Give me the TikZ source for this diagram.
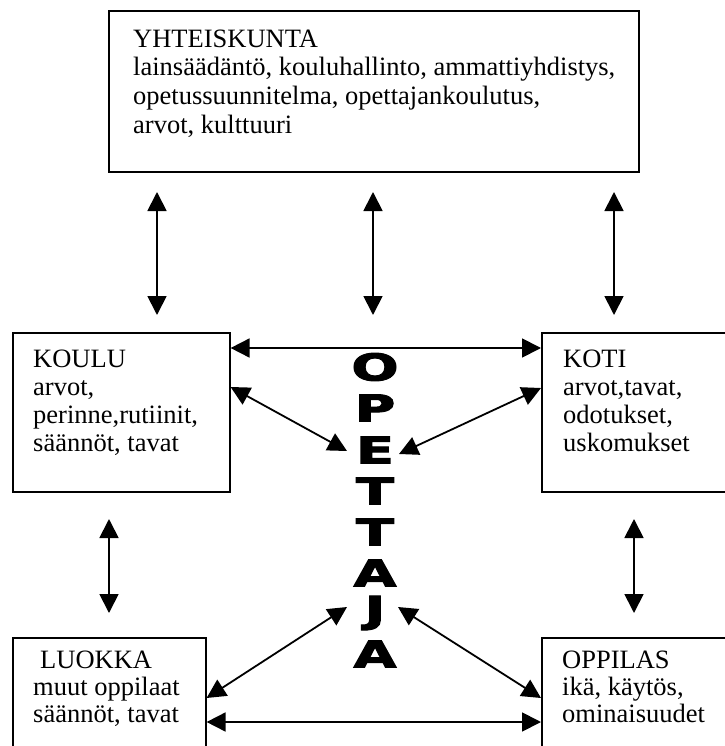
\documentclass[tikz,border=0pt]{standalone}
\usepackage{fontspec}
\usepackage{graphicx}
\setmainfont{Liberation Serif}
\newfontfamily\opfont[FakeBold=2.5]{DejaVu Sans}
\newcommand{\opletter}[1]{\scalebox{1.5}[1]{\opfont\bfseries\fontsize{37}{37}\selectfont #1}}
\usetikzlibrary{arrows.meta}
\begin{document}
\begin{tikzpicture}[x=1pt,y=-1pt,
  boxx/.style={draw,line width=1.6pt,inner sep=0pt,anchor=north west},
  txt/.style={inner sep=0pt,anchor=north west,align=left,font=\fontsize{26.5}{28}\selectfont},
  letter/.style={inner sep=0pt},
  arr/.style={line width=1.8pt,{Triangle[length=19pt,width=19pt]}-{Triangle[length=19pt,width=19pt]}}]
\useasboundingbox (0,0) rectangle (724,746);
% boxes
\node[boxx,minimum width=530pt,minimum height=161pt] (yht) at (108,10) {};
\node[boxx,minimum width=217pt,minimum height=159pt] (koulu) at (12,332) {};
\node[boxx,minimum width=200pt,minimum height=159pt] (koti) at (541,332) {};
\node[boxx,minimum width=193pt,minimum height=130pt] (luokka) at (12,637) {};
\node[boxx,minimum width=200pt,minimum height=130pt] (oppilas) at (541,637) {};
% texts
\node[txt,font=\fontsize{26.5}{28.7}\selectfont] (yhtt) at (133,29.5) {YHTEISKUNTA\\lainsäädäntö, kouluhallinto, ammattiyhdistys,\\opetussuunnitelma, opettajankoulutus,\\arvot, kulttuuri};
\node[txt] (koulut) at (33,349.5) {KOULU\\arvot,\\perinne,rutiinit,\\säännöt, tavat};
\node[txt] (kotit) at (563,349.5) {KOTI\\arvot,tavat,\\odotukset,\\uskomukset};
\node[txt,font=\fontsize{26.5}{27}\selectfont] (luokkat) at (33,650.5) {\hspace*{7pt}LUOKKA\\muut oppilaat\\säännöt, tavat};
\node[txt,font=\fontsize{26.5}{27}\selectfont] (oppilast) at (562,650.5) {OPPILAS\\ikä, käytös,\\ominaisuudet};
% OPETTAJA
\node[letter] (l1) at (375,367) {\opletter{O}};
\node[letter] (l2) at (375,408) {\opletter{P}};
\node[letter] (l3) at (375,450) {\opletter{E}};
\node[letter] (l4) at (375,491) {\opletter{T}};
\node[letter] (l5) at (375,532) {\opletter{T}};
\node[letter] (l6) at (375,573) {\opletter{A}};
\node[letter] (l7) at (375,613) {\opletter{J}};
\node[letter] (l8) at (375,654) {\opletter{A}};
% arrow end coordinates
\coordinate (t1a) at (157,192); \coordinate (t1b) at (157,315);
\coordinate (t2a) at (373,192); \coordinate (t2b) at (373,315);
\coordinate (t3a) at (614,192); \coordinate (t3b) at (614,315);
\coordinate (eL) at (347,451); \coordinate (eR) at (399,454);
\coordinate (jL) at (347,607); \coordinate (jR) at (398,607);
\coordinate (v1a) at (109,519); \coordinate (v1b) at (109,613);
\coordinate (v2a) at (634,519); \coordinate (v2b) at (634,613);
% connectors
\draw[arr] (t1a) -- (t1b);
\draw[arr] (t2a) -- (t2b);
\draw[arr] (t3a) -- (t3b);
\draw[arr] ([yshift=-16pt]koulu.north east) -- ([yshift=-16pt]koti.north west);
\draw[arr] ([yshift=-55pt]koulu.north east) -- (eL);
\draw[arr] ([yshift=-56pt]koti.north west) -- (eR);
\draw[arr] (v1a) -- (v1b);
\draw[arr] (v2a) -- (v2b);
\draw[arr] ([yshift=-61pt]luokka.north east) -- (jL);
\draw[arr] ([yshift=-61pt]oppilas.north west) -- (jR);
\draw[arr] ([yshift=-85pt]luokka.north east) -- ([yshift=-85pt]oppilas.north west);
\end{tikzpicture}
\end{document}
